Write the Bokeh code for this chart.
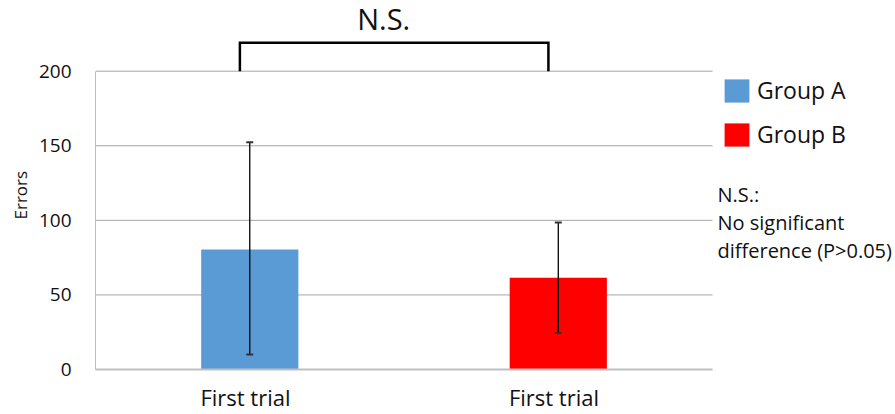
from bokeh.plotting import figure
from bokeh.models import (Range1d, FixedTicker, Legend, LegendItem, Label, Title,
                          Whisker, ColumnDataSource, TeeHead)
from bokeh.embed import file_html
from bokeh.resources import INLINE

# ---- data ----
groups = ["Group A", "Group B"]
trial_labels = ["First trial", "First trial"]
means = [80.5, 61.5]
err_low = [10.0, 24.5]
err_high = [152.3, 98.6]
colors = ["#5B9BD5", "#FF0000"]
y_ticks = [0, 50, 100, 150, 200]
sig_text = "N.S."
note_lines = ["N.S.:", "No significant", "difference (P>0.05)"]
note_y = [117.3, 98.4, 79.6]

FONT = "Open Sans"
x_pos = [0.5, 1.5]
x_end = 2.0
label_shift = 0.014

p = figure(width=895, height=414, x_range=Range1d(0, 2.593), y_range=Range1d(0, 247.4),
           output_backend="svg", toolbar_location=None,
           min_border_left=95, min_border_right=0, min_border_top=0,
           min_border_bottom=42)
p.outline_line_color = None
p.background_fill_color = "white"
p.border_fill_color = "white"

# horizontal grid lines limited to the plot area
p.segment(x0=[0] * len(y_ticks), x1=[x_end] * len(y_ticks), y0=y_ticks, y1=y_ticks,
          line_color="#a6a6a6", line_width=1)

# bars
renderers = []
for xp, m, c in zip(x_pos, means, colors):
    r = p.vbar(x=[xp], top=[m], bottom=0, width=0.315, fill_color=c, line_color=None)
    renderers.append(r)

# error bars
src = ColumnDataSource(dict(x=x_pos, lower=err_low, upper=err_high))
wh = Whisker(source=src, base="x", lower="lower", upper="upper",
             line_color="black", line_width=1.3, level="overlay",
             upper_head=TeeHead(size=7, line_width=2, line_color="#333333"),
             lower_head=TeeHead(size=7, line_width=2, line_color="#333333"))
p.add_layout(wh)

# significance bracket
bracket_top = 219.1
off = 0.032
bx = [x_pos[0] - off, x_pos[0] - off, x_pos[1] - off, x_pos[1] - off]
by = [y_ticks[-1], bracket_top, bracket_top, y_ticks[-1]]
p.line(bx, by, line_color="black", line_width=2.5, line_join="miter")
p.add_layout(Label(x=(bx[0] + bx[-1]) / 2 - 0.034, y=235.0, text=sig_text,
                   text_align="center", text_baseline="alphabetic",
                   text_font=FONT, text_font_size="29px", text_color="#111111"))

# note text
for t, ny in zip(note_lines, note_y):
    p.add_layout(Label(x=2.016, y=ny, text=t, text_align="left",
                       text_baseline="alphabetic", text_font=FONT,
                       text_font_size="20px", text_color="#111111"))

# axes
p.yaxis.ticker = FixedTicker(ticks=y_ticks)
p.yaxis.bounds = (y_ticks[0], y_ticks[-1])
p.yaxis.axis_line_color = "#bfbfbf"
p.yaxis.major_tick_line_color = None
p.yaxis.minor_tick_line_color = None
p.yaxis.major_tick_out = 0
p.yaxis.major_label_standoff = 24
p.yaxis.major_label_text_font = FONT
p.yaxis.major_label_text_font_size = "19px"
p.yaxis.major_label_text_color = "#111111"

p.add_layout(Title(text="Errors", align="left", offset=150, standoff=8,
                   text_font=FONT, text_font_size="17px", text_font_style="normal",
                   text_color="#111111"), "left")

x_ticks = [xp - label_shift for xp in x_pos]
p.xaxis.ticker = FixedTicker(ticks=x_ticks)
p.xaxis.bounds = (0, x_end)
p.xaxis.major_label_overrides = {xt: lab for xt, lab in zip(x_ticks, trial_labels)}
p.xaxis.axis_line_color = "#bfbfbf"
p.xaxis.axis_line_width = 2
p.xaxis.major_tick_line_color = None
p.xaxis.minor_tick_line_color = None
p.xaxis.major_tick_out = 0
p.xaxis.major_label_standoff = 12
p.xaxis.major_label_text_font = FONT
p.xaxis.major_label_text_font_size = "22px"
p.xaxis.major_label_text_color = "#111111"

p.xgrid.visible = False
p.ygrid.visible = False

legend = Legend(items=[LegendItem(label=g, renderers=[r]) for g, r in zip(groups, renderers)],
                location=(626, 219), orientation="vertical",
                glyph_width=31, glyph_height=29, label_standoff=5,
                label_text_font=FONT, label_text_font_size="23px",
                label_text_color="#111111", spacing=12, padding=0, margin=0,
                border_line_color=None, background_fill_alpha=0)
p.add_layout(legend)

open("out.html", "w").write(file_html(p, INLINE))
